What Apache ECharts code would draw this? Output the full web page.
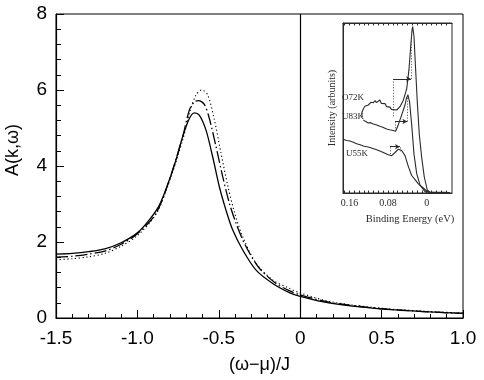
<!DOCTYPE html>
<html>
<head>
<meta charset="utf-8">
<script src="https://cdn.jsdelivr.net/npm/echarts@6/dist/echarts.min.js"></script>
<style>
  html, body { margin: 0; padding: 0; background: #fff; }
  #chart { width: 484px; height: 380px; }
</style>
</head>
<body>
<div id="chart"></div>
<script>
// main panel: spectral function, three curves [ (w-mu)/J , A(k,w) ]
const solidCurve = [
  [-1.5, 1.68], [-1.4, 1.70], [-1.3, 1.745], [-1.2, 1.82], [-1.1, 1.98], [-1.0, 2.24],
  [-0.927, 2.58], [-0.865, 2.97], [-0.804, 3.63], [-0.763, 4.16], [-0.722, 4.77],
  [-0.681, 5.25], [-0.65, 5.40], [-0.62, 5.34], [-0.579, 4.95], [-0.538, 4.25],
  [-0.497, 3.46], [-0.456, 2.84], [-0.415, 2.32], [-0.353, 1.79], [-0.271, 1.26],
  [-0.169, 0.91], [-0.067, 0.67], [0.0, 0.57], [0.184, 0.39], [0.49, 0.24],
  [0.8, 0.16], [1.0, 0.12]
]
const dashCurve = [
  [-1.5, 1.60], [-1.4, 1.625], [-1.3, 1.68], [-1.2, 1.76], [-1.1, 1.94], [-1.0, 2.22],
  [-0.886, 2.75], [-0.804, 3.63], [-0.722, 4.77], [-0.681, 5.47], [-0.65, 5.69], [-0.624, 5.72],
  [-0.589, 5.62], [-0.558, 5.25], [-0.517, 4.51], [-0.476, 3.72], [-0.435, 3.02],
  [-0.394, 2.49], [-0.333, 1.88], [-0.251, 1.31], [-0.149, 0.91], [-0.067, 0.72],
  [0.0, 0.61], [0.184, 0.41], [0.49, 0.25], [0.8, 0.16], [1.0, 0.12]
]
const dotCurve = [
  [-1.5, 1.53], [-1.4, 1.56], [-1.3, 1.61], [-1.2, 1.70], [-1.1, 1.89], [-1.0, 2.17],
  [-0.886, 2.73], [-0.804, 3.59], [-0.722, 4.68], [-0.681, 5.38], [-0.64, 5.87], [-0.605, 6.0],
  [-0.568, 5.87], [-0.527, 5.21], [-0.486, 4.33], [-0.446, 3.50], [-0.405, 2.80],
  [-0.353, 2.14], [-0.271, 1.44], [-0.169, 1.0], [-0.067, 0.78], [0.0, 0.66],
  [0.184, 0.43], [0.49, 0.26], [0.8, 0.17], [1.0, 0.13]
]
const xTicks = [-1.5, 1.0, 0.5]   // min, max, step
const yTicks = [0, 8, 2]

// inset: ARPES spectra [binding energy (eV), intensity (arb.)]
const o72k = [
  [0.1335, 4.55], [0.1345, 4.8], [0.1313, 5.04], [0.128, 5.2], [0.125, 5.1], [0.1209, 5.28], [0.118, 5.22],
  [0.115, 5.45], [0.1106, 5.41], [0.107, 5.55], [0.104, 5.42], [0.1002, 5.51], [0.097, 5.58],
  [0.094, 5.38], [0.0899, 5.31], [0.086, 5.36], [0.083, 5.18], [0.0795, 5.12], [0.076, 5.15],
  [0.073, 5.02], [0.0692, 4.98], [0.0621, 4.98], [0.0553, 5.18], [0.0484, 5.57], [0.0414, 6.25],
  [0.0366, 7.43], [0.0331, 8.8], [0.0304, 9.78], [0.029, 9.98], [0.0263, 9.39], [0.0236, 7.82],
  [0.0195, 5.47], [0.0153, 3.51], [0.0104, 2.14], [0.005, 0.96], [-0.0012, 0.18],
  [-0.0068, 0.05], [-0.0207, 0.03], [-0.035, 0.04], [-0.048, 0.02]
]
const u83k = [
  [0.1313, 4.39], [0.127, 4.3], [0.1209, 4.2], [0.116, 4.22], [0.1106, 4.14], [0.105, 4.1],
  [0.0968, 4.0], [0.091, 3.95], [0.083, 3.84], [0.077, 3.8], [0.0692, 3.75], [0.0644, 3.71],
  [0.0587, 4.1], [0.0518, 4.69], [0.0449, 5.28], [0.042, 5.67], [0.039, 5.9], [0.0355, 5.47],
  [0.0311, 4.1], [0.0263, 2.33], [0.0207, 1.16], [0.0138, 0.47], [0.0035, 0.08],
  [-0.0068, 0.03], [-0.02, 0.04], [-0.035, 0.02]
]
const u55k = [
  [0.1727, 3.22], [0.166, 3.15], [0.1588, 3.12], [0.152, 3.05], [0.1449, 2.96], [0.138, 2.9],
  [0.1313, 2.82], [0.124, 2.78], [0.1174, 2.73], [0.11, 2.66], [0.1035, 2.59], [0.097, 2.52],
  [0.0899, 2.43], [0.0795, 2.29], [0.0725, 2.24], [0.0656, 2.43], [0.0587, 2.63], [0.0553, 2.63],
  [0.0518, 2.55], [0.0449, 2.24], [0.0381, 1.6], [0.0311, 1.05], [0.0242, 0.8], [0.0174, 0.55],
  [0.007, 0.3], [0.0, 0.12], [-0.0068, 0.03], [-0.02, 0.03], [-0.035, 0.02]
]
// leading-edge guides and shift arrows
const o72kGuides = [[[0.0692, 4.6], [0.0692, 6.84]], [[0.0325, 6.84], [0.0325, 9.6]]]
const o72kArrow = [[0.0692, 6.84], [0.0325, 6.84]]
const u83kGuides = [[[0.0656, 3.71], [0.0656, 4.29]], [[0.040, 4.29], [0.040, 5.86]]]
const u83kArrow = [[0.0656, 4.29], [0.040, 4.29]]
const u55kGuides = [[[0.0761, 2.33], [0.0761, 2.82]], [[0.0553, 2.5], [0.0553, 2.82]]]
const u55kArrow = [[0.0761, 2.78], [0.0553, 2.78]]
const insetLabels = [0.16, 0.08, 0]
const insetTicks = [-0.04, -0.03, -0.02, -0.01, 0, 0.01, 0.02, 0.03, 0.04, 0.05, 0.06, 0.07,
  0.08, 0.09, 0.1, 0.11, 0.12, 0.13, 0.14, 0.15, 0.16, 0.17]

const sans = 'Liberation Sans, Arial, Helvetica, sans-serif'
const serif = 'Liberation Serif, Times New Roman, serif'
const ink = '#2a2a2a'

function marks (guides, arrow) {
  const data = guides.map(g => [
    { coord: g[0], symbol: 'none' },
    { coord: g[1], symbol: 'none', lineStyle: { type: [1.2, 1.6], width: 0.9, color: '#555' } }
  ])
  data.push([
    { coord: arrow[0], symbol: 'none' },
    { coord: arrow[1], symbol: 'arrow', symbolSize: [4, 5], lineStyle: { type: 'solid', width: 1, color: ink } }
  ])
  return {
    silent: true,
    animation: false,
    symbol: 'none',
    label: { show: false },
    lineStyle: { type: [1.2, 1.6], width: 0.9, color: '#555' },
    data: data
  }
}

const chart = echarts.init(document.getElementById('chart'))
const option = {
  animation: false,
  grid: [
    { left: 56, right: 21, top: 14, bottom: 62, show: true, borderColor: '#000', borderWidth: 1, backgroundColor: 'transparent' },
    { left: 343, top: 23, width: 109, height: 170, show: true, borderColor: ink, borderWidth: 1 }
  ],
  xAxis: [
    {
      type: 'value', gridIndex: 0,
      min: xTicks[0], max: xTicks[1], interval: xTicks[2],
      name: '(ω−μ)/J', nameLocation: 'middle', nameGap: 38,
      nameTextStyle: { fontFamily: sans, fontSize: 18, color: '#000' },
      axisLine: { show: true, onZero: false, lineStyle: { color: '#000', width: 1.2 } },
      axisTick: { inside: true, length: 8, lineStyle: { color: '#000', width: 1 } },
      minorTick: { show: true, splitNumber: 5, length: 4, lineStyle: { color: '#000', width: 1 } },
      axisLabel: {
        fontFamily: sans, fontSize: 19, color: '#000', margin: 11,
        formatter: v => (v === 0 ? '0' : v.toFixed(1))
      },
      splitLine: { show: false }
    },
    {
      type: 'value', gridIndex: 1, inverse: true,
      min: -0.0524, max: 0.1733,
      axisLine: { show: true, onZero: false, lineStyle: { color: ink, width: 1 } },
      axisTick: { show: true, inside: true, length: 2.5, customValues: insetTicks, lineStyle: { color: ink } },
      axisLabel: {
        fontFamily: serif, fontSize: 10, color: ink, margin: 5, customValues: insetLabels,
        formatter: v => (v === 0 ? '0' : String(v))
      },
      splitLine: { show: false }
    },
    {
      type: 'value', gridIndex: 1, inverse: true, position: 'top',
      min: -0.0524, max: 0.1733,
      axisLine: { show: true, onZero: false, lineStyle: { color: ink, width: 1 } },
      axisTick: { show: true, inside: true, length: 2.5, customValues: insetTicks, lineStyle: { color: ink } },
      axisLabel: { show: false },
      splitLine: { show: false }
    }
  ],
  yAxis: [
    {
      type: 'value', gridIndex: 0,
      min: yTicks[0], max: yTicks[1], interval: yTicks[2],
      axisLine: { show: true, onZero: false, lineStyle: { color: '#000', width: 1.2 } },
      axisTick: { inside: true, length: 8, lineStyle: { color: '#000', width: 1 } },
      minorTick: { show: true, splitNumber: 5, length: 5, lineStyle: { color: '#000', width: 1 } },
      axisLabel: { fontFamily: sans, fontSize: 19, color: '#000', margin: 9 },
      splitLine: { show: false }
    },
    {
      type: 'value', gridIndex: 1, min: 0, max: 10.2,
      name: 'Intensity (arbunits)', nameLocation: 'middle', nameGap: 6,
      nameTextStyle: { fontFamily: serif, fontSize: 10, color: ink },
      axisLine: { show: true, onZero: false, lineStyle: { color: ink, width: 1 } },
      axisTick: { show: false },
      axisLabel: { show: false },
      splitLine: { show: false }
    }
  ],
  graphic: [
    {
      type: 'text', x: 13, y: 150, rotation: Math.PI / 2,
      style: { text: 'A(k,ω)', font: '18px ' + sans, fill: '#000', align: 'center', verticalAlign: 'middle' }
    },
    {
      type: 'text', x: 410, y: 219,
      style: { text: 'Binding Energy (eV)', font: '10.5px ' + serif, fill: ink, align: 'center', verticalAlign: 'middle' }
    },
    { type: 'text', x: 342, y: 98, style: { text: 'O72K', font: '9px ' + serif, fill: ink, verticalAlign: 'middle' } },
    { type: 'text', x: 342, y: 117, style: { text: 'U83K', font: '9px ' + serif, fill: ink, verticalAlign: 'middle' } },
    { type: 'text', x: 346, y: 154, style: { text: 'U55K', font: '9px ' + serif, fill: ink, verticalAlign: 'middle' } }
  ],
  series: [
    {
      type: 'line', xAxisIndex: 0, yAxisIndex: 0, data: solidCurve,
      showSymbol: false, smooth: 0.3, silent: true,
      lineStyle: { color: '#000', width: 1.3 },
      markLine: {
        silent: true, symbol: 'none', label: { show: false },
        lineStyle: { color: '#000', type: 'solid', width: 1.2 },
        data: [{ xAxis: 0 }]
      }
    },
    {
      type: 'line', xAxisIndex: 0, yAxisIndex: 0, data: dashCurve,
      showSymbol: false, smooth: 0.3, silent: true,
      lineStyle: { color: '#000', width: 1.3, type: [12, 3, 1.5, 3] }
    },
    {
      type: 'line', xAxisIndex: 0, yAxisIndex: 0, data: dotCurve,
      showSymbol: false, smooth: 0.3, silent: true,
      lineStyle: { color: '#000', width: 1.1, type: [1.2, 2.6] }
    },
    {
      type: 'line', xAxisIndex: 1, yAxisIndex: 1, data: o72k,
      showSymbol: false, silent: true,
      lineStyle: { color: ink, width: 1.1 },
      markLine: marks(o72kGuides, o72kArrow)
    },
    {
      type: 'line', xAxisIndex: 1, yAxisIndex: 1, data: u83k,
      showSymbol: false, silent: true,
      lineStyle: { color: ink, width: 1.1 },
      markLine: marks(u83kGuides, u83kArrow)
    },
    {
      type: 'line', xAxisIndex: 1, yAxisIndex: 1, data: u55k,
      showSymbol: false, silent: true,
      lineStyle: { color: ink, width: 1.1 },
      markLine: marks(u55kGuides, u55kArrow)
    }
  ]
}
chart.setOption(option)
</script>
</body>
</html>
